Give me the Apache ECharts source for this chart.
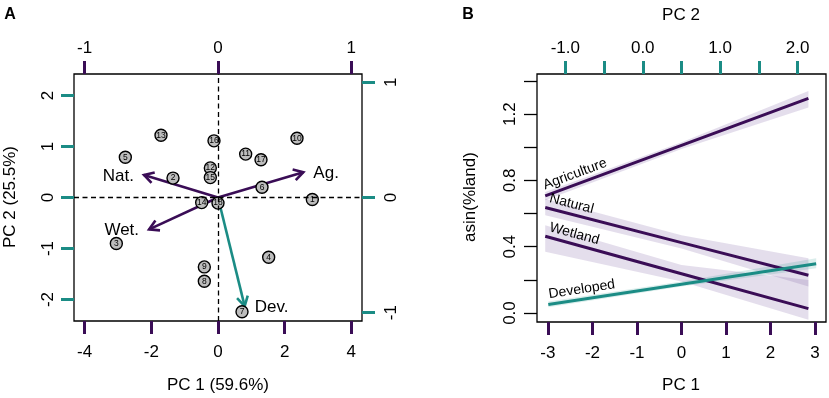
<!DOCTYPE html>
<html>
<head>
<meta charset="utf-8">
<script src="https://cdn.jsdelivr.net/npm/echarts@6/dist/echarts.min.js"></script>
<style>
html, body { margin: 0; padding: 0; background: #fff; }
#main { width: 829px; height: 398px; }
</style>
</head>
<body>
<div id="main"></div>
<script>
// panel A: site scores
var siteIds = [1, 2, 3, 4, 5, 6, 7, 8, 9, 10, 11, 12, 13, 14, 15, 16, 17, 18];
var pc1Scores = [2.83, -1.35, -3.05, 1.52, -2.78, 1.32, 0.72, -0.41, -0.41, 2.37, 0.83, -0.23, -1.71, -0.49, -0.23, -0.12, 1.29, 0.00];
var pc2Scores = [-0.04, 0.38, -0.90, -1.17, 0.79, 0.20, -2.24, -1.64, -1.36, 1.16, 0.85, 0.58, 1.22, -0.10, 0.39, 1.11, 0.74, -0.11];

// panel A: loadings (arrows)
var loadingNames = ['Ag.', 'Nat.', 'Wet.', 'Dev.'];
var loadingPC1 = [0.64, -0.555, -0.517, 0.20];
var loadingPC2 = [0.22, 0.196, -0.277, -0.943];

// panel B: fitted lines (x, fit, lower, upper)
var fitNames = ['Agriculture', 'Natural', 'Wetland', 'Developed'];
var fitX = [[-3.06, 0, 2.85], [-3.06, 0, 2.85], [-3.06, 0, 2.85], [-1.22, 0.5, 2.24]];
var fitY = [[0.707, 1.011, 1.295], [0.637, 0.425, 0.228], [0.463, 0.237, 0.027], [0.051, 0.174, 0.298]];
var fitLo = [[0.68, 0.99, 1.24], [0.59, 0.39, 0.16], [0.37, 0.19, -0.04], [0.035, 0.16, 0.27]];
var fitHi = [[0.73, 1.03, 1.34], [0.69, 0.47, 0.33], [0.53, 0.29, 0.20], [0.07, 0.19, 0.33]];

// tick values
var aBottomTicks = [-4, -2, 0, 2, 4];
var aTopTicks = [-1, 0, 1];
var aLeftTicks = [-2, -1, 0, 1, 2];
var aRightTicks = [-1, 0, 1];
var bBottomTicks = [-3, -2, -1, 0, 1, 2, 3];
var bTopTicks = [-1, -0.5, 0, 0.5, 1, 1.5, 2];
var bTopLabels = [-1, 0, 1, 2];
var bLeftTicks = [0, 0.2, 0.4, 0.6, 0.8, 1.0, 1.2, 1.4];
var bLeftLabels = [0, 0.4, 0.8, 1.2];

var PURPLE = '#3a0d56';
var TEAL = '#1b8c85';
var FONT = 'Liberation Sans, Arial, sans-serif';

var chart = echarts.init(document.getElementById('main'));

function makeAxis(grid, pos, min, max, ticks, labels, color, margin, fmt, rotate) {
    return {
        gridIndex: grid,
        type: 'value',
        position: pos,
        min: min,
        max: max,
        axisLine: { show: false, onZero: false },
        splitLine: { show: false },
        axisTick: { show: true, customValues: ticks, length: 13, lineStyle: { color: color, width: color === '#000' ? 1.3 : 3 } },
        axisLabel: {
            show: true, customValues: labels, margin: margin, rotate: rotate || 0,
            fontSize: 17, color: '#000', fontFamily: FONT,
            formatter: fmt || function (v) { return String(v); }
        }
    };
}
function fix1(v) { return v.toFixed(1); }

var scatterData = siteIds.map(function (id, i) { return [pc1Scores[i], pc2Scores[i], id]; });
var arrowData = loadingNames.map(function (n, i) { return [loadingPC1[i], loadingPC2[i], i]; });

var series = [];

// dashed zero lines
series.push({
    type: 'line', xAxisIndex: 0, yAxisIndex: 0, data: [], z: 1,
    markLine: {
        silent: true, symbol: 'none', label: { show: false },
        lineStyle: { color: '#000', width: 1.3, type: [5, 3.5] },
        data: [{ xAxis: 0 }, { yAxis: 0 }]
    }
});

// arrows
series.push({
    type: 'custom', xAxisIndex: 1, yAxisIndex: 1, z: 2, silent: true,
    data: arrowData,
    renderItem: function (params, api) {
        var i = api.value(2);
        var o = api.coord([0, 0]);
        var t = api.coord([api.value(0), api.value(1)]);
        var ang = Math.atan2(t[1] - o[1], t[0] - o[0]);
        var L = 11, sp = Math.PI / 6;
        var p1 = [t[0] - L * Math.cos(ang - sp), t[1] - L * Math.sin(ang - sp)];
        var p2 = [t[0] - L * Math.cos(ang + sp), t[1] - L * Math.sin(ang + sp)];
        var col = loadingNames[i] === 'Dev.' ? TEAL : PURPLE;
        var right = api.value(0) > 0;
        return {
            type: 'group',
            children: [
                { type: 'line', shape: { x1: o[0], y1: o[1], x2: t[0], y2: t[1] }, style: { stroke: col, lineWidth: 2.6 } },
                { type: 'polyline', shape: { points: [p1, t, p2] }, style: { stroke: col, lineWidth: 2.6, fill: null } },
                {
                    type: 'text', x: t[0] + (right ? 10 : -10), y: t[1] + 1,
                    style: { text: loadingNames[i], fontSize: 17, fontFamily: FONT, fill: '#000', align: right ? 'left' : 'right', verticalAlign: 'middle' }
                }
            ]
        };
    }
});

// site points
series.push({
    type: 'scatter', xAxisIndex: 0, yAxisIndex: 0, z: 3, silent: true,
    symbolSize: 12,
    itemStyle: { color: '#bdbdbd', borderColor: '#000', borderWidth: 1.4, opacity: 1 },
    label: { show: true, position: 'inside', fontSize: 8.5, color: '#000', fontFamily: FONT, formatter: function (p) { return p.value[2]; } },
    data: scatterData
});

// panel B
fitNames.forEach(function (name, k) {
    var xi = name === 'Developed' ? 3 : 2;
    var col = name === 'Developed' ? TEAL : PURPLE;
    var band = name === 'Developed' ? 'rgba(27,140,133,0.16)' : 'rgba(120,90,160,0.2)';
    series.push({
        type: 'custom', xAxisIndex: xi, yAxisIndex: 2, z: 1, silent: true,
        data: fitX[k].map(function (x, i) { return [x, fitLo[k][i], fitHi[k][i]]; }),
        renderItem: function (params, api) {
            if (params.dataIndex !== 0) return;
            var pts = [], i;
            for (i = 0; i < fitX[k].length; i++) pts.push(api.coord([fitX[k][i], fitHi[k][i]]));
            for (i = fitX[k].length - 1; i >= 0; i--) pts.push(api.coord([fitX[k][i], fitLo[k][i]]));
            return { type: 'polygon', shape: { points: pts }, style: { fill: band } };
        }
    });
    series.push({
        type: 'line', xAxisIndex: xi, yAxisIndex: 2, z: 2, silent: true,
        showSymbol: false, symbol: 'none',
        lineStyle: { color: col, width: 3 },
        data: fitX[k].map(function (x, i) { return [x, fitY[k][i]]; })
    });
    series.push({
        type: 'custom', xAxisIndex: xi, yAxisIndex: 2, z: 3, silent: true,
        data: [[fitX[k][0], fitY[k][0]]],
        renderItem: function (params, api) {
            var n = fitX[k].length - 1;
            var p0 = api.coord([fitX[k][0], fitY[k][0]]);
            var p1 = api.coord([fitX[k][n], fitY[k][n]]);
            var ang = Math.atan2(-(p1[1] - p0[1]), p1[0] - p0[0]);
            return {
                type: 'text', x: p0[0], y: p0[1], rotation: ang,
                style: { text: name, x: 2, y: -3, fontSize: 14, fontFamily: FONT, fill: '#000', align: 'left', verticalAlign: 'bottom' }
            };
        }
    });
});

var option = {
    animation: false,
    backgroundColor: '#fff',
    grid: [
        { left: 74, right: 467, top: 74, bottom: 77, show: true, borderColor: '#000', borderWidth: 1.3, backgroundColor: 'transparent' },
        { left: 537, right: 3, top: 74, bottom: 76, show: true, borderColor: '#000', borderWidth: 1.3, backgroundColor: 'transparent' }
    ],
    xAxis: [
        makeAxis(0, 'bottom', -4.32, 4.32, aBottomTicks, aBottomTicks, PURPLE, 23),
        makeAxis(0, 'top', -1.08, 1.08, aTopTicks, aTopTicks, PURPLE, 17),
        makeAxis(1, 'bottom', -3.245, 3.245, bBottomTicks, bBottomTicks, PURPLE, 23),
        makeAxis(1, 'top', -1.366, 2.367, bTopTicks, bTopLabels, TEAL, 17, fix1)
    ],
    yAxis: [
        makeAxis(0, 'left', -2.42, 2.42, aLeftTicks, aLeftTicks, TEAL, 17, null, 90),
        makeAxis(0, 'right', -1.072, 1.072, aRightTicks, aRightTicks, TEAL, 21, null, 90),
        makeAxis(1, 'left', -0.054, 1.442, bLeftTicks, bLeftLabels, '#000', 18, fix1, 90)
    ],
    graphic: [
        { type: 'text', x: 10, y: 15, style: { text: 'A', font: 'bold 16px ' + FONT, fill: '#000', align: 'center', verticalAlign: 'middle' } },
        { type: 'text', x: 468, y: 15, style: { text: 'B', font: 'bold 16px ' + FONT, fill: '#000', align: 'center', verticalAlign: 'middle' } },
        { type: 'text', x: 218, y: 385, style: { text: 'PC 1 (59.6%)', font: '17px ' + FONT, fill: '#000', align: 'center', verticalAlign: 'middle' } },
        { type: 'text', x: 10, y: 197, rotation: Math.PI / 2, style: { text: 'PC 2 (25.5%)', font: '17px ' + FONT, fill: '#000', align: 'center', verticalAlign: 'middle' } },
        { type: 'text', x: 681, y: 385, style: { text: 'PC 1', font: '17px ' + FONT, fill: '#000', align: 'center', verticalAlign: 'middle' } },
        { type: 'text', x: 681, y: 15, style: { text: 'PC 2', font: '17px ' + FONT, fill: '#000', align: 'center', verticalAlign: 'middle' } },
        { type: 'text', x: 470, y: 197, rotation: Math.PI / 2, style: { text: 'asin(%land)', font: '17px ' + FONT, fill: '#000', align: 'center', verticalAlign: 'middle' } }
    ],
    series: series
};
chart.setOption(option);
</script>
</body>
</html>
